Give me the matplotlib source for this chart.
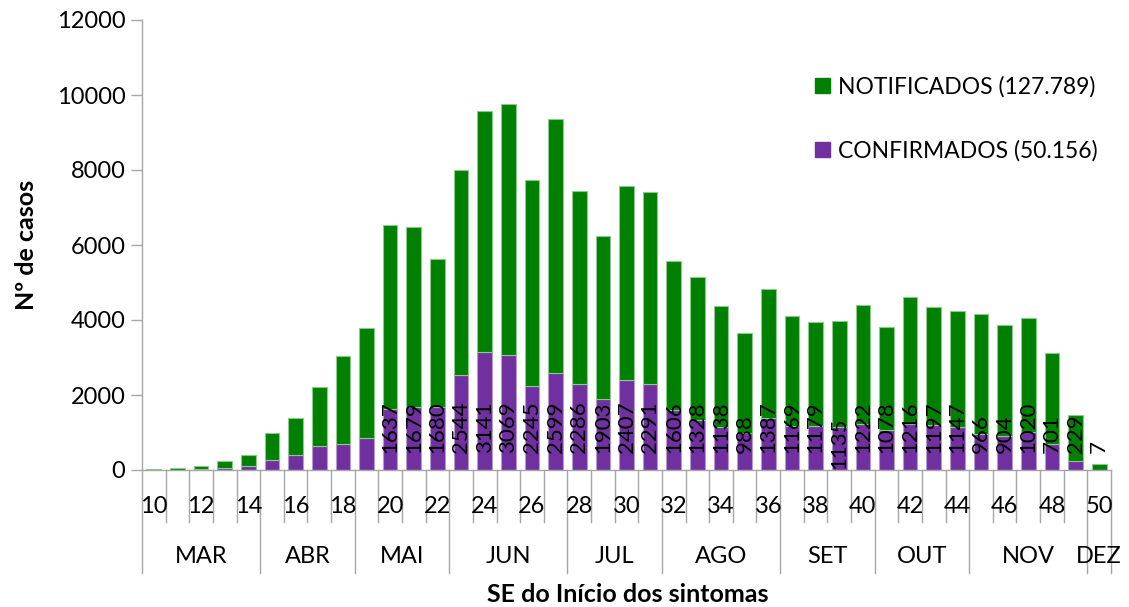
"""Casos notificados e confirmados por semana epidemiológica (SE) do início dos sintomas."""
import matplotlib
matplotlib.use("Agg")
import matplotlib.pyplot as plt
from matplotlib.patches import Patch

# --- data ---
weeks = list(range(10, 51))
confirmados = [5, 10, 20, 55, 100, 265, 400, 650, 700, 853,
               1637, 1679, 1680, 2544, 3141, 3069, 2245, 2599, 2286, 1903,
               2407, 2291, 1606, 1328, 1138, 988, 1387, 1169, 1179, 1135,
               1222, 1078, 1216, 1197, 1147, 966, 904, 1020, 701, 229, 7]
notificados = [25, 35, 95, 185, 300, 714, 978, 1555, 2349, 2942,
               4896, 4793, 3938, 5447, 6432, 6682, 5480, 6769, 5163, 4337,
               5175, 5114, 3967, 3819, 3235, 2665, 3440, 2938, 2768, 2838,
               3178, 2735, 3397, 3150, 3093, 3194, 2963, 3033, 2419, 1229, 161]
labelled_from = 20          # first week whose confirmed count is printed
months = ["MAR", "ABR", "MAI", "JUN", "JUL", "AGO", "SET", "OUT", "NOV", "DEZ"]
month_weeks = [5, 4, 4, 5, 4, 5, 4, 4, 5, 1]   # weeks per month on the axis

GREEN = "#008000"
PURPLE = "#7030A0"
AXIS = "#A6A6A6"
INK = "#000000"
FS = 17

plt.rcParams.update({
    "font.family": ["Lato", "DejaVu Sans"],
    "font.size": FS,
    "text.color": INK,
})

fig = plt.figure(figsize=(11.29, 6.07), dpi=100)
ax = fig.add_axes([142/1129, 1-470/607, 969/1129, 450/607])

x = list(range(len(weeks)))
ax.bar(x, confirmados, width=0.62, color=PURPLE, edgecolor="#B49BCB", linewidth=0.8, zorder=2)
ax.bar(x, notificados, width=0.62, bottom=confirmados, color=GREEN,
       edgecolor="#8CC98C", linewidth=0.8, zorder=2)

# confirmed counts, written upright from the base of the bar
for i, (w, c) in enumerate(zip(weeks, confirmados)):
    if w < labelled_from:
        continue
    y0 = 20 if c == 1135 else 450
    ax.text(i, y0, str(c), rotation=90, ha="center", va="bottom",
            fontsize=16, color=INK, zorder=3)

ax.set_xlim(-0.5, len(weeks) - 0.5)
ax.set_ylim(0, 12000)
ax.set_yticks(range(0, 12001, 2000))
ax.tick_params(axis="y", length=8, width=1, color=AXIS, labelsize=FS, pad=4)
ax.set_xticks([])
for s in ("top", "right"):
    ax.spines[s].set_visible(False)
for s in ("left", "bottom"):
    ax.spines[s].set_color(AXIS)
    ax.spines[s].set_linewidth(1)

# two-level category axis: week numbers, then months
tr = ax.get_xaxis_transform()
bounds = [0]
for n in month_weeks:
    bounds.append(bounds[-1] + n)
for i in range(len(weeks) + 1):
    bottom = -0.229 if i in bounds else -0.1156
    ax.plot([i - 0.5, i - 0.5], [0, bottom], transform=tr, color=AXIS,
            linewidth=1, clip_on=False)
for i, w in enumerate(weeks):
    if w % 2 == 0:
        ax.text(i, -0.082, str(w), transform=tr, ha="center", va="center", fontsize=FS)
for m, a, b in zip(months, bounds[:-1], bounds[1:]):
    ax.text((a + b - 1) / 2, -0.193, m, transform=tr, ha="center", va="center", fontsize=FS)

fig.text(26/1129, 1-245/607, "Nº de casos", rotation=90, ha="center", va="center",
         fontsize=18, fontweight="bold")
fig.text(628/1129, 1-594/607, "SE do Início dos sintomas", ha="center", va="center",
         fontsize=18, fontweight="bold")

handles = [Patch(color=GREEN, label="NOTIFICADOS (127.789)"),
           Patch(color=PURPLE, label="CONFIRMADOS (50.156)")]
fig.legend(handles=handles, loc="upper left", bbox_to_anchor=(815/1129, 1-76/607),
           frameon=False, fontsize=16.5, handlelength=0.65, handleheight=0.65,
           handletextpad=0.35, labelspacing=1.85, borderpad=0, borderaxespad=0)

fig.savefig("out.png", dpi=100)
plt.close(fig)
